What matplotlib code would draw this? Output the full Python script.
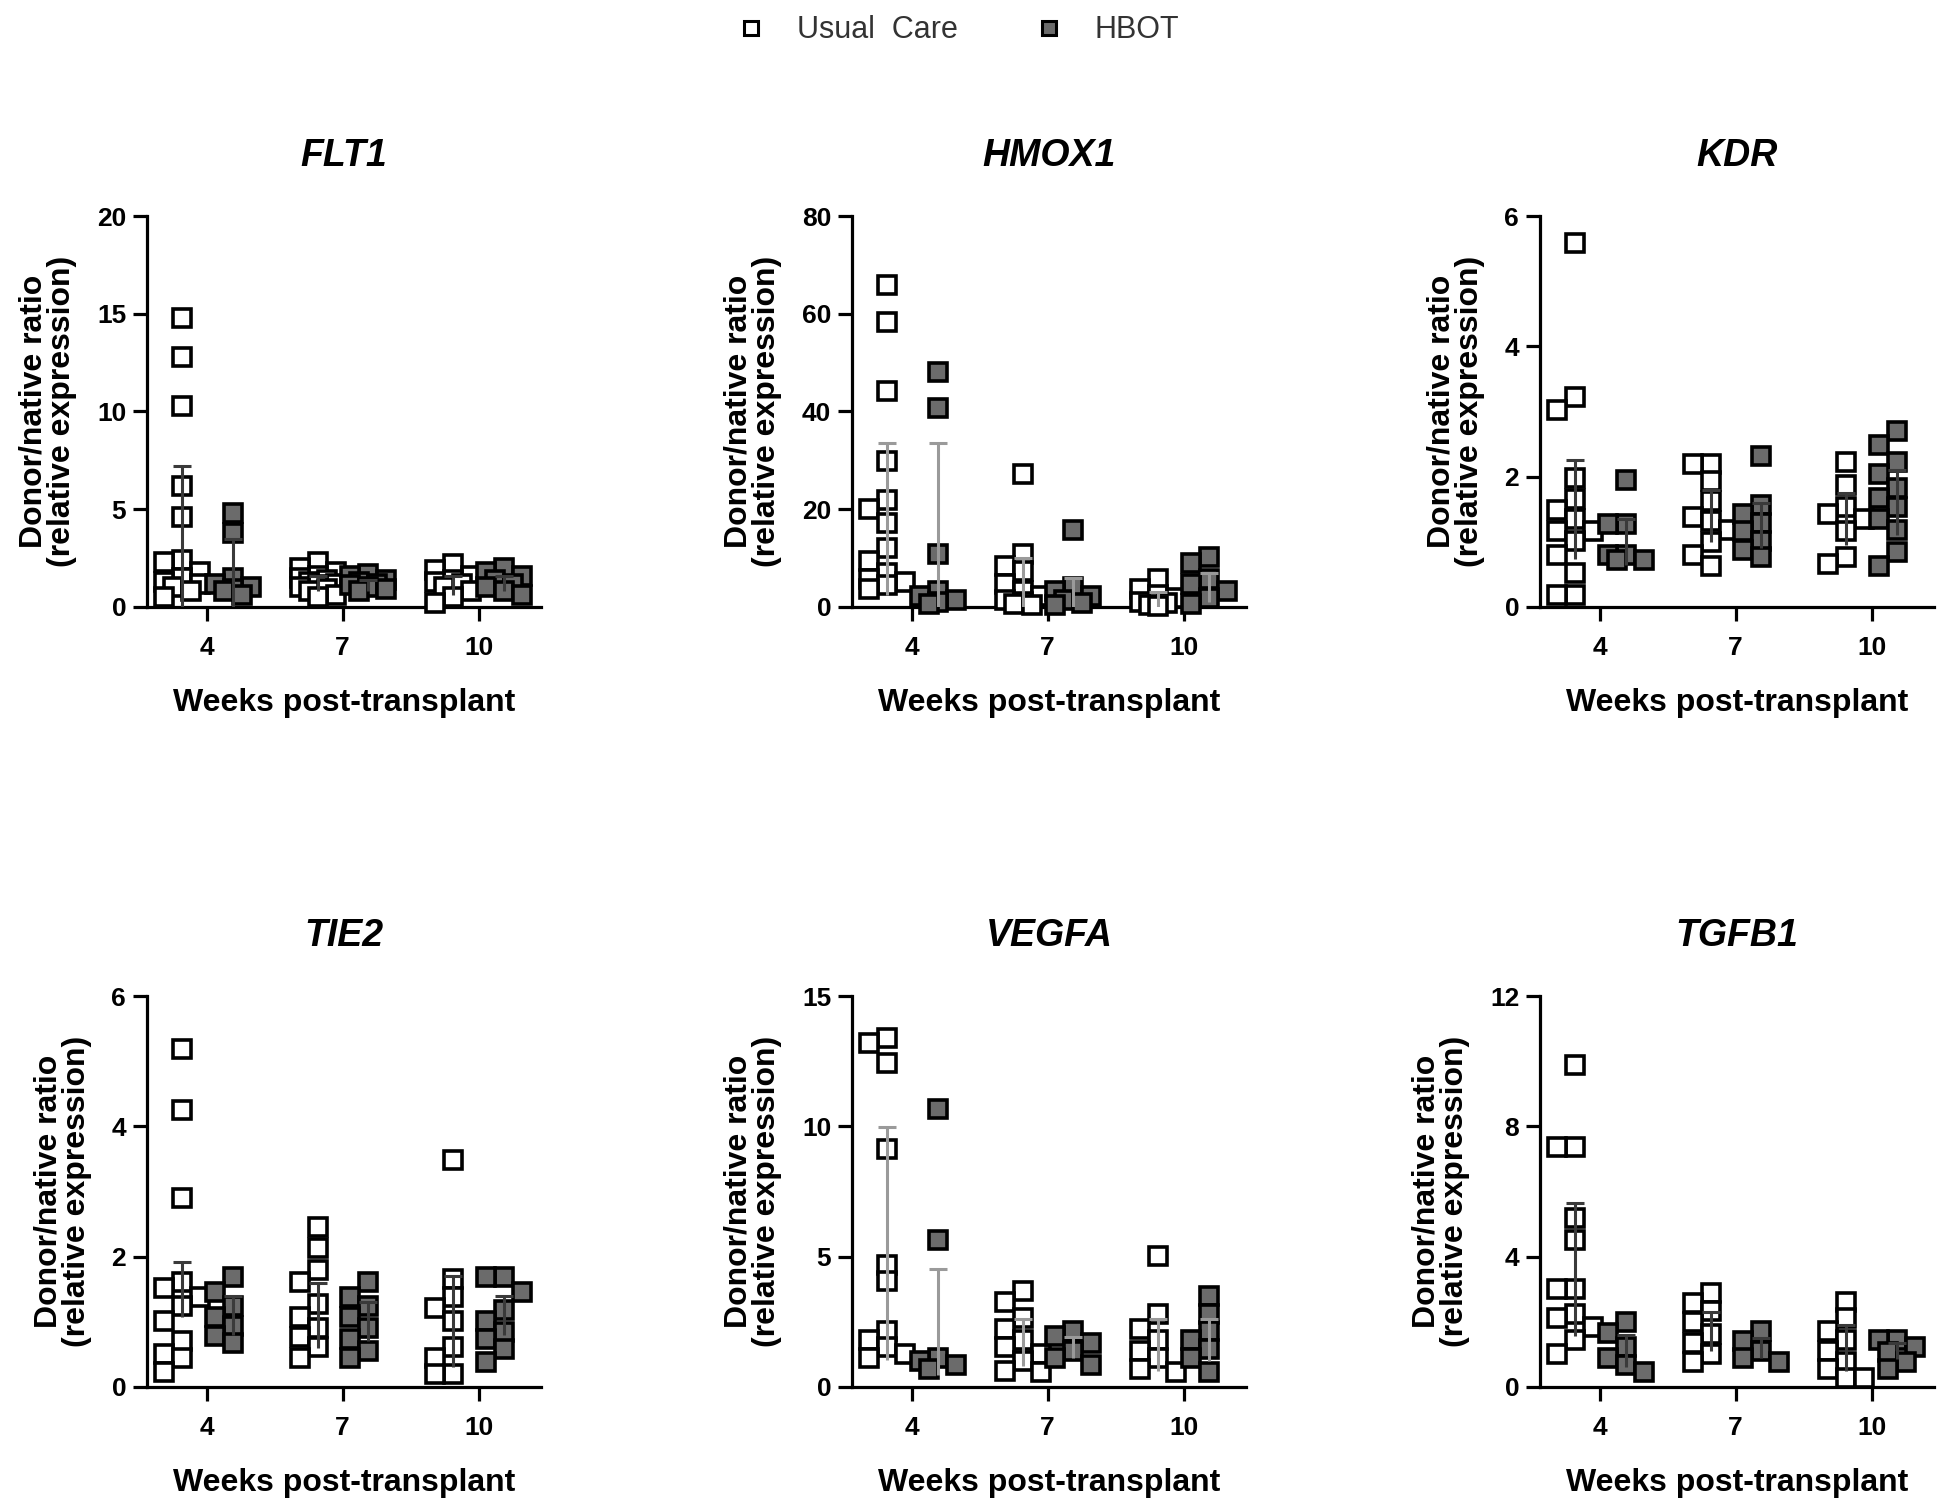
import numpy as np
import matplotlib
matplotlib.use("Agg")
import matplotlib.pyplot as plt
from matplotlib.lines import Line2D

plt.rcParams['font.family'] = ['Liberation Sans', 'DejaVu Sans']

# ---------------- data ----------------
weeks = ['4', '7', '10']
genes = ['FLT1', 'HMOX1', 'KDR', 'TIE2', 'VEGFA', 'TGFB1']
y_max = [20, 80, 6, 6, 15, 12]
y_step = [5, 20, 2, 2, 5, 4]

flt1_uc = [[14.8, 12.8, 10.3, 6.2, 4.6, 2.4, 2.3, 1.8, 1.5, 1.3, 1.2, 1.0, 0.8, 0.5],
           [2.3, 2.0, 1.8, 1.6, 1.5, 1.4, 1.3, 1.2, 1.1, 1.0, 0.9, 0.8, 0.6, 0.5],
           [2.2, 1.9, 1.6, 1.4, 1.3, 1.2, 1.0, 0.8, 0.5, 0.2]]
flt1_hbot = [[4.8, 3.8, 1.5, 1.2, 1.0, 0.9, 0.8, 0.6],
             [1.7, 1.6, 1.4, 1.3, 1.2, 1.1, 1.0, 0.9, 0.8],
             [2.0, 1.8, 1.6, 1.4, 1.2, 1.0, 0.8, 0.6]]

hmox1_uc = [[65.9, 58.3, 44.1, 29.9, 21.9, 20.0, 17.1, 12.0, 9.5, 6.9, 5.8, 5.1, 4.5, 3.6],
            [27.3, 10.9, 8.4, 7.3, 4.7, 3.3, 2.2, 1.5, 1.0, 0.7, 0.4],
            [5.8, 3.6, 2.5, 1.8, 1.1, 0.8, 0.5, 0.3]]
hmox1_hbot = [[48.1, 40.8, 10.9, 3.3, 2.2, 1.5, 1.0, 0.7],
              [15.7, 4.0, 3.3, 2.2, 1.5, 0.9, 0.5],
              [10.2, 9.1, 5.8, 4.7, 3.3, 1.8, 0.7]]

kdr_uc = [[5.59, 3.23, 3.03, 1.98, 1.65, 1.49, 1.35, 1.16, 1.16, 1.02, 0.80, 0.52, 0.19, 0.19],
          [2.20, 2.20, 1.93, 1.62, 1.38, 1.32, 1.18, 0.99, 0.80, 0.63],
          [2.23, 1.87, 1.54, 1.43, 1.35, 1.16, 0.77, 0.66]]
kdr_hbot = [[1.95, 1.27, 1.27, 0.80, 0.80, 0.72, 0.72],
            [2.31, 1.57, 1.43, 1.29, 1.16, 1.02, 0.88, 0.77],
            [2.70, 2.48, 2.23, 2.04, 1.82, 1.68, 1.54, 1.35, 1.18, 0.85, 0.63]]

tie2_uc = [[5.18, 4.25, 2.90, 1.61, 1.52, 1.38, 1.24, 1.01, 0.70, 0.51, 0.45, 0.23],
           [2.45, 2.14, 1.80, 1.61, 1.27, 1.07, 0.90, 0.76, 0.62, 0.45],
           [3.49, 1.66, 1.38, 1.21, 1.01, 0.62, 0.45, 0.20, 0.20]]
tie2_hbot = [[1.69, 1.46, 1.24, 1.07, 0.93, 0.79, 0.68],
             [1.61, 1.38, 1.24, 1.07, 0.90, 0.73, 0.56, 0.45],
             [1.69, 1.69, 1.46, 1.18, 1.01, 0.85, 0.73, 0.59, 0.39]]

vegfa_uc = [[13.37, 13.19, 12.42, 9.14, 4.67, 4.05, 2.16, 1.81, 1.53, 1.26, 1.12],
            [3.70, 3.28, 2.65, 2.23, 1.81, 1.53, 1.26, 0.98, 0.63, 0.56],
            [5.02, 2.79, 2.23, 1.81, 1.40, 1.12, 0.70, 0.56]]
vegfa_hbot = [[10.67, 5.65, 1.12, 0.98, 0.84, 0.70],
              [2.16, 1.95, 1.67, 1.40, 1.12, 0.84],
              [3.49, 2.79, 2.16, 1.81, 1.47, 1.12, 0.56]]

tgfb1_uc = [[9.88, 7.37, 7.37, 5.19, 4.52, 3.01, 3.01, 2.23, 2.12, 1.84, 1.45, 1.00],
            [2.90, 2.57, 2.34, 2.01, 1.62, 1.34, 1.00, 0.78],
            [2.62, 2.12, 1.73, 1.45, 1.12, 0.78, 0.56, 0.28, 0.28]]
tgfb1_hbot = [[2.01, 1.67, 1.23, 0.89, 0.67, 0.45],
              [1.73, 1.40, 1.12, 0.89, 0.78],
              [1.45, 1.45, 1.23, 1.06, 0.78, 0.56]]

# error bars: centre (mean) and top of bar
uc_mean = [[3.2, 1.2, 1.1], [18, 5, 1.5], [1.5, 1.4, 1.35],
           [1.5, 1.1, 1.0], [5.5, 1.7, 1.6], [3.6, 1.7, 1.2]]
uc_top = [[7.23, 1.6, 1.6], [33.5, 10, 3], [2.26, 1.8, 1.75],
          [1.92, 1.6, 1.7], [9.98, 2.6, 2.6], [5.64, 2.3, 1.9]]
hbot_mean = [[1.7, 1.1, 1.2], [12, 3, 4], [1.0, 1.25, 1.6],
             [1.1, 1.0, 1.1], [2.5, 1.5, 1.8], [1.1, 1.2, 1.1]]
hbot_top = [[3.5, 1.4, 1.6], [33.5, 6, 7], [1.35, 1.6, 2.1],
            [1.4, 1.3, 1.4], [4.53, 1.9, 2.6], [1.6, 1.5, 1.35]]

uc_data = [flt1_uc, hmox1_uc, kdr_uc, tie2_uc, vegfa_uc, tgfb1_uc]
hbot_data = [flt1_hbot, hmox1_hbot, kdr_hbot, tie2_hbot, vegfa_hbot, tgfb1_hbot]
err_colors = ['#3a3a3a', '#9a9a9a', '#3a3a3a', '#3a3a3a', '#9a9a9a', '#3a3a3a']

# ---------------- layout ----------------
W, H = 1950, 1511
fig = plt.figure(figsize=(W / 100, H / 100), dpi=100)

ax_w = 394
ax_h = 391
lefts = [147, 852, 1540]
bottoms = [607, 1387]  # pixel y of the x axis (from top)

XLIM = (-0.44, 2.46)
UC_OFF, HB_OFF = -0.185, 0.19
MS, MEW = 13.0, 2.6
HB_FACE = '#6b6b6b'


def swarm(ax, xc, vals, size_px=16.0, step_px=9.0, nsteps=2):
    vals = np.asarray(vals, dtype=float)
    pts = ax.transData.transform(np.column_stack([np.full(len(vals), xc), vals]))
    py = pts[:, 1]
    ppu = (ax.transData.transform((1, 0)) - ax.transData.transform((0, 0)))[0]
    cands = [0.0]
    for k in range(1, nsteps + 1):
        cands += [-k * step_px, k * step_px]
    placed = []
    offs = np.zeros(len(vals))
    for i in np.argsort(-vals, kind='stable'):
        chosen = None
        for c in cands:
            if all(abs(c - ox) >= size_px or abs(py[i] - oy) >= size_px for ox, oy in placed):
                chosen = c
                break
        if chosen is None:
            best = -1
            for c in cands:
                d = min(np.hypot(c - ox, py[i] - oy) for ox, oy in placed)
                if d > best:
                    best, chosen = d, c
        placed.append((chosen, py[i]))
        offs[i] = chosen
    return xc + offs / ppu


for gi, gene in enumerate(genes):
    r, c = divmod(gi, 3)
    left = lefts[c]
    bot = bottoms[r]
    ax = fig.add_axes([left / W, 1 - bot / H, ax_w / W, ax_h / H])
    ax.set_xlim(*XLIM)
    ax.set_ylim(0, y_max[gi])
    ax.set_yticks(np.arange(0, y_max[gi] + 0.01, y_step[gi]))
    ax.set_xticks(range(len(weeks)))
    ax.set_xticklabels(weeks)
    for s in ['top', 'right']:
        ax.spines[s].set_visible(False)
    for s in ['left', 'bottom']:
        ax.spines[s].set_linewidth(2.3)
    ax.tick_params(width=2.3, length=10, labelsize=19)
    ax.tick_params(axis='x', pad=11)
    ax.tick_params(axis='y', pad=5)
    for lab in ax.get_xticklabels() + ax.get_yticklabels():
        lab.set_fontweight('bold')

    for wi in range(len(weeks)):
        xu = swarm(ax, wi + UC_OFF, uc_data[gi][wi])
        ax.plot(xu, uc_data[gi][wi], ls='none', marker='s', ms=MS, mew=MEW,
                mfc='white', mec='black', zorder=3, clip_on=False)
        xh = swarm(ax, wi + HB_OFF, hbot_data[gi][wi])
        ax.plot(xh, hbot_data[gi][wi], ls='none', marker='s', ms=MS, mew=MEW,
                mfc=HB_FACE, mec='black', zorder=3, clip_on=False)
        for xc, m, t in ((wi + UC_OFF, uc_mean[gi][wi], uc_top[gi][wi]),
                         (wi + HB_OFF, hbot_mean[gi][wi], hbot_top[gi][wi])):
            lo = max(0.0, 2 * m - t)
            ax.vlines(xc, lo, t, colors=err_colors[gi], linewidth=2.2, zorder=4)
            ax.plot([xc], [t], ls='none', marker='_', ms=13, mew=2.2,
                    color=err_colors[gi], zorder=4)

    ax.set_title(gene, fontsize=27, fontweight='bold', fontstyle='italic', pad=36)
    ax.set_xlabel('Weeks post-transplant', fontsize=23, fontweight='bold')
    ax.xaxis.set_label_coords(0.5, -(703 - 607) / ax_h)
    ax.xaxis.label.set_verticalalignment('center')
    ax.set_ylabel('Donor/native ratio\n(relative expression)', fontsize=23,
                  fontweight='bold', linespacing=0.95, labelpad=14)

handles = [Line2D([], [], ls='none', marker='s', ms=10, mew=2.2,
                  mfc='white', mec='black'),
           Line2D([], [], ls='none', marker='s', ms=10, mew=2.2,
                  mfc=HB_FACE, mec='black')]
leg = fig.legend(handles, ['Usual  Care', 'HBOT'], loc='upper center',
                 bbox_to_anchor=(0.491, 1.008), ncol=2, frameon=False,
                 fontsize=22, handlelength=1.0, handletextpad=1.0,
                 columnspacing=2.5, labelcolor='#333333')

fig.savefig('out.png', dpi=100)
